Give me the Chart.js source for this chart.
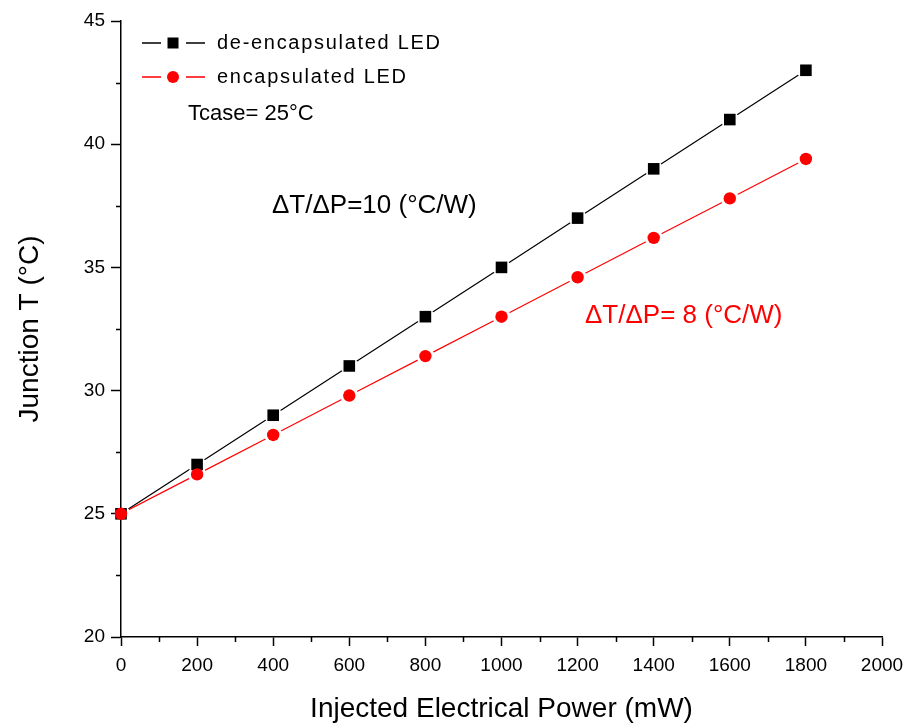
<!DOCTYPE html>
<html>
<head>
<meta charset="utf-8">
<script src="https://cdn.jsdelivr.net/npm/chart.js@4.4.1/dist/chart.umd.min.js"></script>
<style>
  html, body { margin: 0; padding: 0; background: #fff; }
  canvas { display: block; }
</style>
</head>
<body>
<canvas id="chart" width="914" height="728"></canvas>
<script>
// injected power (mW) and measured junction temperature (°C)
const powerMw = [0, 200, 400, 600, 800, 1000, 1200, 1400, 1600, 1800];
const deEncapsulated = [25, 27, 29, 31, 33, 35, 37, 39, 41, 43];
const encapsulated = [25, 26.6, 28.2, 29.8, 31.4, 33, 34.6, 36.2, 37.8, 39.4];

const xLimits = [0, 2000];
const yLimits = [20, 45];
const xMinorTicks = [100, 300, 500, 700, 900, 1100, 1300, 1500, 1700, 1900];
const yMinorTicks = [22.5, 27.5, 32.5, 37.5, 42.5];

const seriesNames = ['de-encapsulated LED', 'encapsulated LED'];
const slopeNotes = ['\u0394T/\u0394P=10 (\u00b0C/W)', '\u0394T/\u0394P= 8 (\u00b0C/W)'];
const caseNote = 'Tcase= 25\u00b0C';

const FONT = '"Liberation Sans", Arial, sans-serif';
const BLACK = '#000000';
const RED = '#ff0000';

const toXY = ys => powerMw.map((p, i) => ({ x: p, y: ys[i] }));

// small ticks between the labelled ones + legend + slope notes
const extras = {
  id: 'extras',
  afterDraw(chart) {
    const { ctx, scales: { x, y }, chartArea } = chart;
    ctx.save();
    ctx.strokeStyle = BLACK;
    ctx.lineWidth = 1.5;
    ctx.beginPath();
    xMinorTicks.forEach(v => {
      const px = Math.round(x.getPixelForValue(v)) + 0.5;
      ctx.moveTo(px, chartArea.bottom);
      ctx.lineTo(px, chartArea.bottom + 5);
    });
    yMinorTicks.forEach(v => {
      const py = Math.round(y.getPixelForValue(v)) + 0.5;
      ctx.moveTo(chartArea.left, py);
      ctx.lineTo(chartArea.left - 5, py);
    });
    ctx.stroke();

    // legend rows: line - marker - line, then label
    const rows = [
      { color: BLACK, style: 'square', y: 43, text: seriesNames[0] },
      { color: RED, style: 'circle', y: 77, text: seriesNames[1] }
    ];
    ctx.font = '20px ' + FONT;
    ctx.textBaseline = 'middle';
    ctx.textAlign = 'left';
    ctx.letterSpacing = '1.7px';
    rows.forEach(r => {
      ctx.strokeStyle = r.color;
      ctx.fillStyle = r.color;
      ctx.lineWidth = 1.3;
      ctx.beginPath();
      ctx.moveTo(142, r.y); ctx.lineTo(161, r.y);
      ctx.moveTo(186, r.y); ctx.lineTo(205, r.y);
      ctx.stroke();
      ctx.beginPath();
      if (r.style === 'square') ctx.rect(167.5, r.y - 5.5, 11, 11);
      else ctx.arc(173, r.y, 6, 0, Math.PI * 2);
      ctx.fill();
      ctx.fillStyle = BLACK;
      ctx.fillText(r.text, 217, r.y);
    });
    ctx.letterSpacing = '0px';
    ctx.font = '22px ' + FONT;
    ctx.fillText(caseNote, 188, 114);

    // slope annotations
    ctx.font = '26px ' + FONT;
    ctx.fillStyle = BLACK;
    ctx.fillText(slopeNotes[0], 272, 206);
    ctx.fillStyle = RED;
    ctx.fillText(slopeNotes[1], 585, 316);
    ctx.restore();
  }
};

const lineStyle = (data, color, order) => ({
  data, borderColor: color, borderWidth: 1.2, pointRadius: 0,
  fill: false, tension: 0, order
});
// white discs that open a small gap in the line around each marker
const haloStyle = (data, order) => ({
  data, showLine: false, pointRadius: 9, pointBackgroundColor: '#fff',
  pointBorderWidth: 0, order, clip: { left: -2, top: 10, right: 10, bottom: 10 }
});
const markerStyle = (data, color, style, radius, order) => ({
  data, showLine: false, pointStyle: style, pointRadius: radius,
  pointBackgroundColor: color, pointBorderWidth: 0, order, clip: false
});

new Chart(document.getElementById('chart'), {
  type: 'line',
  data: {
    datasets: [
      lineStyle(toXY(deEncapsulated), BLACK, 6),
      lineStyle(toXY(encapsulated), RED, 5),
      haloStyle(toXY(deEncapsulated), 4),
      haloStyle(toXY(encapsulated), 3),
      markerStyle(toXY(deEncapsulated), BLACK, 'rect', 8.2, 1),
      markerStyle(toXY(encapsulated), RED, 'circle', 6.2, 0)
    ]
  },
  options: {
    responsive: false,
    animation: false,
    layout: { padding: { top: 21, right: 32, left: 0, bottom: 0 } },
    plugins: { legend: { display: false }, tooltip: { enabled: false } },
    scales: {
      x: {
        type: 'linear',
        min: xLimits[0], max: xLimits[1],
        afterFit: s => { s.height = 91; },
        border: { color: BLACK, width: 1.5 },
        grid: { drawOnChartArea: false, tickLength: 9, tickColor: BLACK, tickWidth: 1.5 },
        ticks: { stepSize: 200, color: BLACK, padding: 8, maxRotation: 0,
          callback: v => String(v), font: { family: FONT, size: 19 } },
        title: { display: true, text: 'Injected Electrical Power (mW)', color: BLACK,
          font: { family: FONT, size: 28 }, padding: { top: 0, bottom: 2 } }
      },
      y: {
        min: yLimits[0], max: yLimits[1],
        afterFit: s => { s.width = 121; },
        border: { color: BLACK, width: 1.5 },
        grid: { drawOnChartArea: false, tickLength: 10, tickColor: BLACK, tickWidth: 1.5 },
        ticks: { stepSize: 5, color: BLACK, padding: 6, font: { family: FONT, size: 19 } },
        title: { display: true, text: 'Junction T (\u00b0C)', color: BLACK,
          font: { family: FONT, size: 28 }, padding: { top: 13, bottom: 0 } }
      }
    }
  },
  plugins: [extras]
});
</script>
</body>
</html>
